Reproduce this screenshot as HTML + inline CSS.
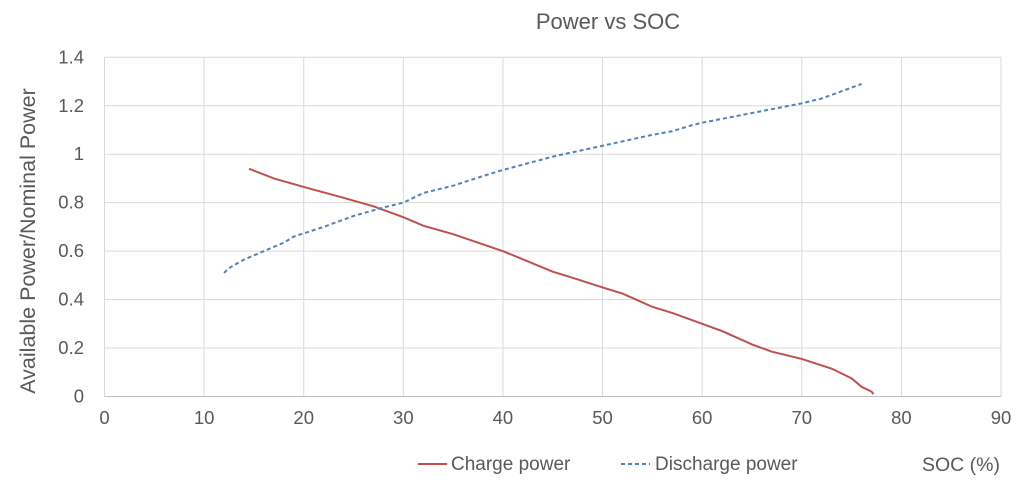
<!DOCTYPE html>
<html><head><meta charset="utf-8"><style>
html,body{margin:0;padding:0;background:#fff;width:1024px;height:485px;overflow:hidden}
text{font-family:"Liberation Sans",sans-serif;fill:#595959}
</style></head><body>
<svg id="chart" width="1024" height="485">
<text x="608" y="29" font-size="22" text-anchor="middle">Power vs SOC</text>
<g id="grid"></g><g id="ticks"></g><g id="series"></g>
<text transform="translate(35,241) rotate(-90)" font-size="21.5" text-anchor="middle">Available Power/Nominal Power</text>
<text x="1000" y="471" font-size="19.5" text-anchor="end">SOC (%)</text>
<g><line x1="418" y1="464" x2="447" y2="464" stroke="#c0504d" stroke-width="2"/><text x="451" y="470" font-size="19">Charge power</text></g>
<g><line x1="621" y1="464" x2="650" y2="464" stroke="#4f81bd" stroke-width="2" stroke-dasharray="4,3"/><text x="655" y="470" font-size="19">Discharge power</text></g>
</svg>
<script>
const xTicks=[0,10,20,30,40,50,60,70,80,90];
const yTicks=[0,0.2,0.4,0.6,0.8,1,1.2,1.4];
const yTickLabels=["0","0.2","0.4","0.6","0.8","1","1.2","1.4"];
const chargeSoc=[14.5,17,20,24,27,30,32,35,40,45,47,50,52,55,57,60,62,65,67,70,73,75,76,77,77.2];
const chargePower=[0.94,0.90,0.865,0.82,0.785,0.74,0.705,0.67,0.60,0.515,0.49,0.45,0.425,0.37,0.345,0.30,0.27,0.215,0.185,0.155,0.115,0.075,0.04,0.02,0.01];
const dischargeSoc=[12,12.5,14,16,18,19,22,25,28,30,32,35,38,40,45,50,55,57,59,60,65,70,72,74,76];
const dischargePower=[0.51,0.53,0.565,0.60,0.635,0.66,0.70,0.745,0.78,0.80,0.84,0.87,0.91,0.935,0.99,1.035,1.08,1.095,1.12,1.13,1.17,1.21,1.23,1.26,1.29];
const NS="http://www.w3.org/2000/svg";
const X0=104.5,X1=1001,Y0=396.5,Y1=57.3;
const xs=v=>X0+(v-0)/90*(X1-X0);
const ys=v=>Y0-(v/1.4)*(Y0-Y1);
function mk(tag,attrs,parent){const e=document.createElementNS(NS,tag);for(const k in attrs)e.setAttribute(k,attrs[k]);document.getElementById(parent).appendChild(e);return e;}
xTicks.forEach((t,i)=>{
  const l=mk('line',{x1:xs(t),x2:xs(t),y1:Y1,y2:Y0,stroke:'#d9d9d9','stroke-width':1},'grid');
  
  
  const tx=mk('text',{x:xs(t),y:424,'font-size':18.5,'text-anchor':'middle'},'ticks');
  tx.textContent=String(t);
  
  
});
yTicks.forEach((t,i)=>{
  const l=mk('line',{x1:X0,x2:X1,y1:ys(t),y2:ys(t),stroke:t===0?'#bfbfbf':'#d9d9d9','stroke-width':1},'grid');
  
  
  const tx=mk('text',{x:84,y:ys(t)+6,'font-size':18.5,'text-anchor':'end'},'ticks');
  tx.textContent=yTickLabels[i];
  
  
});
const c=mk('polyline',{points:chargeSoc.map((s,i)=>xs(s)+','+ys(chargePower[i])).join(' '),fill:'none',stroke:'#c0504d','stroke-width':2},'series');


const d=mk('polyline',{points:dischargeSoc.map((s,i)=>xs(s)+','+ys(dischargePower[i])).join(' '),fill:'none',stroke:'#4f81bd','stroke-width':2,'stroke-dasharray':'4,3'},'series');


</script>
</body></html>
